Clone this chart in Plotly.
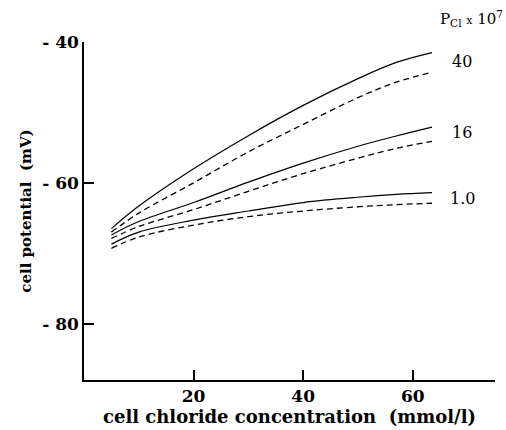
import plotly.graph_objects as go

# Data
conc_x = [5, 10, 20, 30, 40, 50, 57, 63.5]
solid_40 = [-66.5, -63.3, -58.0, -53.3, -49.0, -45.2, -42.9, -41.5]
dashed_40 = [-67.0, -64.3, -60.0, -55.6, -51.7, -47.9, -45.7, -44.3]
solid_16 = [-67.4, -65.5, -62.8, -59.9, -57.2, -54.8, -53.35, -52.1]
dashed_16 = [-67.9, -66.2, -63.8, -61.2, -58.7, -56.5, -55.1, -54.1]
solid_1 = [-68.7, -67.0, -65.3, -64.0, -62.8, -62.05, -61.65, -61.4]
dashed_1 = [-69.3, -67.7, -66.0, -64.8, -64.0, -63.4, -63.1, -62.9]

series_labels = ["40", "16", "1.0"]
label_y = [-42.7, -52.9, -62.2]

x_ticks = [20, 40, 60]
y_ticks = [-40, -60, -80]
y_ticktext = ["- 40", "- 60", "- 80"]

FONT = "DejaVu Serif"

fig = go.Figure()

for ys in [solid_40, solid_16, solid_1]:
    fig.add_trace(go.Scatter(x=conc_x, y=ys, mode="lines",
                             line=dict(color="black", width=1.2, shape="spline"),
                             showlegend=False, hoverinfo="skip"))
for ys in [dashed_40, dashed_16, dashed_1]:
    fig.add_trace(go.Scatter(x=conc_x, y=ys, mode="lines",
                             line=dict(color="black", width=1.3, shape="spline", dash="6px,4px"),
                             showlegend=False, hoverinfo="skip"))

for lab, ly in zip(series_labels, label_y):
    fig.add_annotation(x=69, y=ly, text=lab, showarrow=False, xref="x", yref="y",
                       xanchor="center", yanchor="middle",
                       font=dict(family=FONT, size=16, color="black"))

fig.add_annotation(x=1.0, y=1.0, xref="paper", yref="paper", xshift=10, yshift=11,
                   text="P<sub>Cl</sub> <span style='font-size:11px'>x</span> 10<sup>7</sup>",
                   showarrow=False, xanchor="right", yanchor="bottom",
                   font=dict(family=FONT, size=15, color="black"))

fig.update_layout(
    width=506, height=430,
    margin=dict(l=84, r=11, t=42, b=50),
    paper_bgcolor="white", plot_bgcolor="white",
    font=dict(family=FONT, size=17, color="black"),
)

fig.update_xaxes(
    range=[0, 75], showgrid=False, zeroline=False,
    showline=True, linecolor="black", linewidth=1.5,
    tickmode="array", tickvals=x_ticks, ticktext=[f"<b>{v}</b>" for v in x_ticks],
    ticks="inside", ticklen=10, tickwidth=1.5, tickcolor="black",
    tickfont=dict(family=FONT, size=17),
    title=dict(text="<b>cell chloride concentration  (mmol/l)</b>", standoff=0,
               font=dict(family=FONT, size=18)),
)
fig.update_yaxes(
    range=[-88, -40], showgrid=False, zeroline=False,
    showline=True, linecolor="black", linewidth=1.5,
    tickmode="array", tickvals=y_ticks, ticktext=[f"<b>{t}</b>" for t in y_ticktext],
    ticks="inside", ticklen=10, tickwidth=1.5, tickcolor="black",
    tickfont=dict(family=FONT, size=17),
    title=dict(text="<b>cell potential  (mV)</b>", standoff=7,
               font=dict(family=FONT, size=15)),
)

fig.write_html("out.html")
